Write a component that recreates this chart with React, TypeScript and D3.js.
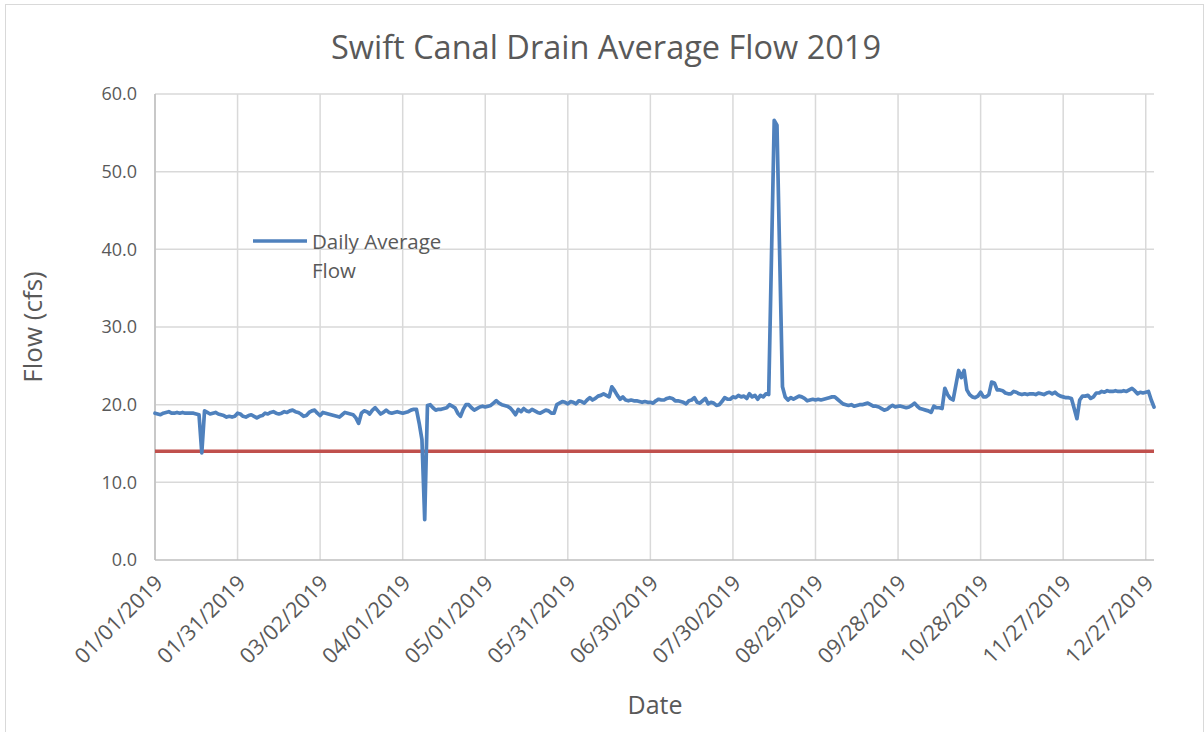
import React from "react";
import * as d3 from "d3";

const chartTitle = "Swift Canal Drain Average Flow 2019";
const seriesName = ["Daily Average", "Flow"];
const xAxisTitle = "Date";
const yAxisTitle = "Flow (cfs)";
const yTicks = [0, 10, 20, 30, 40, 50, 60];
const xTickDays = [0, 30, 60, 90, 120, 150, 180, 210, 240, 270, 300, 330, 360];
const thresholdValue = 14;

// daily average flow (cfs), 01/01/2019 onward
const flow: number[] = [
  18.9, 18.8, 18.7, 18.9, 19.0, 19.1, 18.9, 18.9, 19.0, 18.9,
  19.0, 18.9, 18.9, 18.9, 18.9, 18.8, 18.7, 13.8, 19.2, 19.0,
  18.8, 18.9, 19.0, 18.8, 18.7, 18.6, 18.4, 18.5, 18.4, 18.5,
  18.9, 18.8, 18.5, 18.4, 18.6, 18.7, 18.5, 18.3, 18.5, 18.6,
  18.9, 18.8, 19.0, 19.1, 18.9, 18.8, 18.9, 19.1, 19.0, 19.2,
  19.3, 19.1, 19.0, 18.8, 18.5, 18.6, 19.0, 19.2, 19.3, 18.9,
  18.6, 19.0, 18.9, 18.8, 18.7, 18.6, 18.5, 18.4, 18.7, 19.0,
  18.9, 18.8, 18.7, 18.3, 17.6, 18.9, 19.2, 19.1, 18.8, 19.3,
  19.6, 19.2, 18.8, 19.0, 19.3, 19.0, 18.9, 19.0, 19.1, 19.0,
  18.9, 19.0, 19.1, 19.3, 19.4, 19.4, 17.6, 15.5, 5.2, 19.9,
  20.0, 19.6, 19.3, 19.4, 19.4, 19.5, 19.6, 20.0, 19.8, 19.6,
  18.9, 18.5, 19.4, 20.0, 20.0, 19.6, 19.3, 19.5, 19.7, 19.8,
  19.7, 19.8, 19.9, 20.2, 20.5, 20.2, 20.0, 19.9, 19.8, 19.6,
  19.2, 18.7, 19.4, 19.1, 19.5, 19.2, 19.1, 19.4, 19.2, 19.0,
  18.9, 19.1, 19.3, 19.2, 18.9, 18.9, 20.0, 20.2, 20.4, 20.3,
  20.1, 20.4, 20.3, 20.1, 20.5, 20.4, 20.2, 20.6, 20.9, 20.6,
  20.8, 21.1, 21.2, 21.4, 21.2, 21.0, 22.3, 21.8, 21.2, 20.7,
  21.0, 20.6, 20.5, 20.6, 20.5, 20.5, 20.4, 20.3, 20.4, 20.3,
  20.3, 20.2, 20.5, 20.7, 20.6, 20.6, 20.8, 20.9, 20.8, 20.5,
  20.5, 20.4, 20.3, 20.1, 20.5, 20.6, 20.9, 20.3, 20.2, 20.5,
  20.8, 20.1, 20.3, 20.2, 19.9, 20.0, 20.4, 20.9, 20.7, 20.7,
  21.0, 20.9, 21.2, 21.0, 21.1, 20.8, 21.4, 21.0, 21.2, 20.7,
  21.2, 21.0, 21.4, 21.3, 39.0, 56.6, 56.0, 39.0, 22.3, 21.0,
  20.6, 20.9, 20.7, 20.9, 21.1, 21.0, 20.8, 20.5, 20.6, 20.7,
  20.6, 20.7, 20.6, 20.7, 20.8, 20.9, 21.0, 21.0, 20.7, 20.4,
  20.1, 20.0, 19.9, 20.0, 19.8, 19.9, 20.0, 20.0, 20.1, 20.2,
  20.0, 19.8, 19.8, 19.7, 19.5, 19.3, 19.4, 19.7, 19.9, 19.7,
  19.8, 19.8, 19.7, 19.6, 19.7, 19.9, 20.2, 19.8, 19.5, 19.4,
  19.3, 19.2, 19.0, 19.8, 19.6, 19.6, 19.5, 22.1, 21.3, 20.8,
  20.6, 22.5, 24.4, 23.5, 24.4, 21.9, 21.3, 21.0, 20.9, 21.1,
  21.6, 21.0, 21.0, 21.3, 22.9, 22.8, 21.9, 21.9, 21.8, 21.5,
  21.4, 21.4, 21.7, 21.6, 21.4, 21.3, 21.4, 21.3, 21.4, 21.4,
  21.3, 21.5, 21.4, 21.3, 21.5, 21.6, 21.4, 21.6, 21.3, 21.1,
  21.0, 20.9, 20.9, 20.8, 19.5, 18.2, 20.6, 21.1, 21.1, 21.2,
  20.8, 21.0, 21.5, 21.5, 21.7, 21.6, 21.8, 21.7, 21.7, 21.8,
  21.7, 21.7, 21.8, 21.7, 21.9, 22.1, 21.8, 21.4, 21.6, 21.5,
  21.6, 21.7, 20.6, 19.7,
];

const W = 1204;
const H = 732;
const FONT = "'Open Sans', 'Noto Sans', sans-serif";
const TEXT = "#595959";

const start = new Date(2019, 0, 1);
const fmt = d3.timeFormat("%m/%d/%Y");

export default function App() {
  const x = d3.scaleLinear().domain([0, flow.length - 1]).range([155, 1154]);
  const y = d3.scaleLinear().domain([0, 60]).range([560, 94]);

  const line = d3
    .line<number>()
    .x((_, i) => x(i))
    .y((d) => y(d));

  const pathD = line(flow) || "";

  return (
    <svg
      width={W}
      height={H}
      style={{ position: "absolute", left: 0, top: 0, background: "#fff" }}
    >
      <rect x={5.5} y={4.5} width={1198} height={740} fill="#fff" stroke="#d9d9d9" strokeWidth={1} />
      {/* gridlines */}
      {yTicks.map((t) =>
        t === 0 ? null : (
          <line key={"gy" + t} x1={x(0)} x2={x(flow.length - 1)} y1={y(t)} y2={y(t)} stroke="#d9d9d9" strokeWidth={1.5} />
        )
      )}
      {xTickDays.map((d) => (
        <line key={"gx" + d} x1={x(d)} x2={x(d)} y1={y(60)} y2={y(0)} stroke="#d9d9d9" strokeWidth={1.5} />
      ))}
      {/* axes */}
      <line x1={x(0)} x2={x(0)} y1={y(60)} y2={y(0)} stroke="#bfbfbf" strokeWidth={1.5} />
      <line x1={x(0)} x2={x(flow.length - 1)} y1={y(0)} y2={y(0)} stroke="#bfbfbf" strokeWidth={1.5} />
      {/* y tick labels */}
      {yTicks.map((t) => (
        <text key={"ty" + t} x={137} y={y(t)} dy="0.35em" textAnchor="end" fontFamily={FONT} fontSize={18} fill={TEXT}>
          {t.toFixed(1)}
        </text>
      ))}
      {/* x tick labels */}
      {xTickDays.map((d) => {
        const dt = d3.timeDay.offset(start, d);
        const tx = x(d) + 4;
        const ty = 579;
        return (
          <text
            key={"tx" + d}
            transform={`translate(${tx},${ty}) rotate(-45)`}
            textAnchor="end"
            dy="0.35em"
            fontFamily={FONT}
            fontSize={21.5}
            fill={TEXT}
          >
            {fmt(dt)}
          </text>
        );
      })}
      {/* threshold line */}
      <line x1={x(0)} x2={x(flow.length - 1)} y1={y(thresholdValue)} y2={y(thresholdValue)} stroke="#c0504d" strokeWidth={3.6} />
      {/* flow line */}
      <path d={pathD} fill="none" stroke="#4f81bd" strokeWidth={3.7} strokeLinejoin="round" strokeLinecap="round" />
      {/* legend */}
      <line x1={253} x2={307} y1={241} y2={241} stroke="#4f81bd" strokeWidth={3.7} />
      <text x={312} y={242} dy="0.35em" fontFamily={FONT} fontSize={20.5} fill={TEXT}>
        {seriesName[0]}
      </text>
      <text x={312} y={271} dy="0.35em" fontFamily={FONT} fontSize={20.5} fill={TEXT}>
        {seriesName[1]}
      </text>
      {/* titles */}
      <text x={606} y={48} dy="0.35em" textAnchor="middle" fontFamily={FONT} fontSize={32.5} fill={TEXT}>
        {chartTitle}
      </text>
      <text x={655} y={705} dy="0.35em" textAnchor="middle" fontFamily={FONT} fontSize={25} fill={TEXT}>
        {xAxisTitle}
      </text>
      <text transform="translate(33,327) rotate(-90)" dy="0.35em" textAnchor="middle" fontFamily={FONT} fontSize={26} fill={TEXT}>
        {yAxisTitle}
      </text>
    </svg>
  );
}
